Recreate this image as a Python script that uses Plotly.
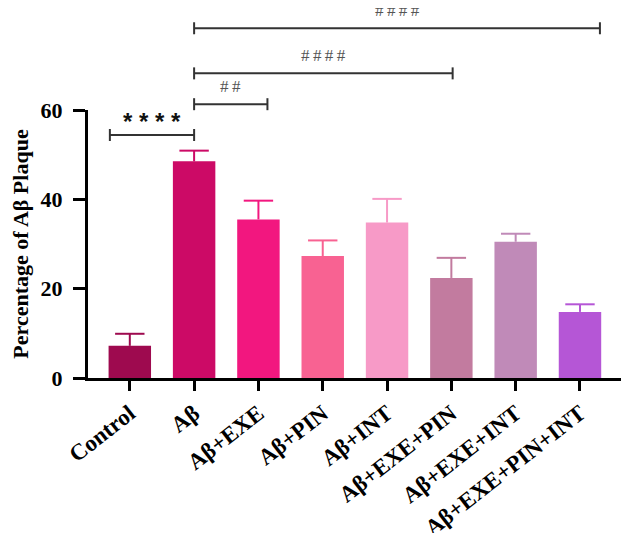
import plotly.graph_objects as go

categories = ["Control", "Aβ", "Aβ+EXE", "Aβ+PIN", "Aβ+INT",
              "Aβ+EXE+PIN", "Aβ+EXE+INT", "Aβ+EXE+PIN+INT"]
means = [7.2, 48.5, 35.5, 27.3, 34.8, 22.4, 30.5, 14.8]
errors_upper = [2.7, 2.4, 4.2, 3.5, 5.3, 4.5, 1.8, 1.7]
colors = ["#9E0A4F", "#CC0A66", "#F2177F", "#F86292", "#F79AC7",
          "#C27B9F", "#C08AB8", "#B556D6"]

y_ticks = [0, 20, 40, 60]

# significance brackets (x in category index units, height in data units)
bracket_x0 = [-0.31, 1.0, 1.0, 1.0]
bracket_x1 = [1.0, 2.14, 5.02, 7.31]
bracket_h = [54.4, 61.3, 68.2, 78.3]
bracket_labels = ["* * * *", "#\u2009#", "#\u2009#\u2009#\u2009#", "#\u2009#\u2009#\u2009#"]

Y_MAX = 60.0
SERIF = "Liberation Serif"

fig = go.Figure()
for cat, m, e, c in zip(categories, means, errors_upper, colors):
    fig.add_trace(go.Bar(
        x=[cat], y=[m], width=0.66,
        marker=dict(color=c, line=dict(width=0)),
        showlegend=False, hoverinfo="skip",
    ))
    # one-sided error bar: cap marker at the top, stem drawn downward to the bar
    fig.add_trace(go.Scatter(
        x=[cat], y=[m + e], mode="markers",
        marker=dict(symbol="line-ew", size=21, color=c, line=dict(color=c, width=2)),
        error_y=dict(type="data", symmetric=False, array=[0], arrayminus=[e],
                     color=c, thickness=2, width=0),
        showlegend=False, hoverinfo="skip",
    ))

PLOT_H = 268.0
shapes = []
annotations = []
for x0, x1, h, lab in zip(bracket_x0, bracket_x1, bracket_h, bracket_labels):
    yp = h / Y_MAX
    dt = 6 / PLOT_H
    ln = dict(color="#333333", width=2)
    shapes.append(dict(type="line", xref="x", yref="paper", x0=x0, x1=x1, y0=yp, y1=yp, line=ln))
    shapes.append(dict(type="line", xref="x", yref="paper", x0=x0, x1=x0, y0=yp - dt, y1=yp + dt, line=ln))
    shapes.append(dict(type="line", xref="x", yref="paper", x0=x1, x1=x1, y0=yp - dt, y1=yp + dt, line=ln))
    if lab.startswith("*"):
        font = dict(family="Liberation Sans", size=24, color="#111111", weight="bold")
        ys = 14
    else:
        font = dict(family=SERIF, size=17, color="#555555")
        ys = 18
    annotations.append(dict(text=lab, xref="x", yref="paper", x=(x0 + x1) / 2, y=yp,
                            yanchor="middle", xanchor="center", yshift=ys,
                            showarrow=False, font=font))

fig.update_layout(
    width=621, height=525,
    margin=dict(l=80, r=4, t=102, b=155),
    plot_bgcolor="white", paper_bgcolor="white",
    barmode="overlay", showlegend=False,
    shapes=shapes, annotations=annotations,
    xaxis=dict(
        range=[-0.65, 7.7], showline=True, linecolor="black", linewidth=3,
        ticks="outside", ticklen=10, tickwidth=3, tickcolor="black",
        tickangle=-38, showgrid=False, zeroline=False, automargin=False,
        tickfont=dict(family=SERIF, size=23, color="black", weight="bold"),
    ),
    yaxis=dict(
        range=[0, Y_MAX], tickvals=y_ticks, showline=True, linecolor="black",
        linewidth=3, ticks="outside", ticklen=12, tickwidth=3, tickcolor="black",
        showgrid=False, zeroline=False, automargin=False, ticklabelstandoff=6,
        tickfont=dict(family=SERIF, size=22, color="black", weight="bold"),
        title=dict(text="Percentage of Aβ Plaque", standoff=9,
                   font=dict(family=SERIF, size=22, color="black", weight="bold")),
    ),
)

fig.write_html("out.html")
